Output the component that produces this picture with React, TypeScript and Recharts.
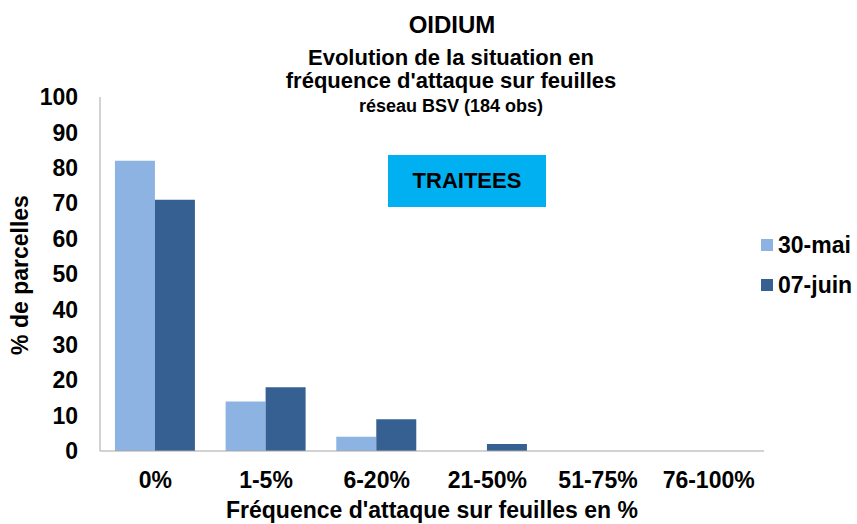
import React from "react";
import { Bar, BarChart, Legend, XAxis, YAxis } from "recharts";

const classes = ["0%", "1-5%", "6-20%", "21-50%", "51-75%", "76-100%"];
const mai30 = [82, 14, 4, 0, 0, 0];
const juin07 = [71, 18, 9, 2, 0, 0];
const seriesNames = ["30-mai", "07-juin"];
const yTicks = [0, 10, 20, 30, 40, 50, 60, 70, 80, 90, 100];

const data = classes.map((c, i) => ({
  classe: c,
  mai: mai30[i],
  juin: juin07[i],
}));

const FONT = '"Liberation Sans", Arial, sans-serif';

function LegendBox({ payload }: any) {
  const items = [...(payload || [])].sort(
    (a: any, b: any) => seriesNames.indexOf(a.value) - seriesNames.indexOf(b.value)
  );
  return (
    <div style={{ fontFamily: FONT, fontWeight: "bold", fontSize: 23 }}>
      {items.map((p: any) => (
        <div
          key={p.value}
          style={{ display: "flex", alignItems: "center", height: 40, color: "#000" }}
        >
          <span
            style={{
              width: 12,
              height: 12,
              background: p.color,
              display: "inline-block",
              marginRight: 5,
            }}
          />
          {p.value}
        </div>
      ))}
    </div>
  );
}

export default function App() {
  return (
    <div style={{ position: "absolute", left: 0, top: 0, width: 857, height: 524, background: "#fff" }}>
      <BarChart
        width={857}
        height={524}
        data={data}
        margin={{ top: 97, right: 93, bottom: 0, left: 0 }}
        barCategoryGap="13.5%"
        barGap={0}
      >
        <XAxis
          dataKey="classe"
          height={73}
          stroke="#a6a6a6"
          tickLine={false}
          tickSize={0}
          tickMargin={21}
          interval={0}
          tick={{ fill: "#000", fontSize: 23, fontWeight: "bold", fontFamily: FONT }}
          label={{
            value: "Fréquence d'attaque sur feuilles en %",
            position: "insideBottom",
            offset: 6,
            fill: "#000",
            fontSize: 23,
            fontWeight: "bold",
            fontFamily: FONT,
          }}
        />
        <YAxis
          width={100}
          domain={[0, 100]}
          ticks={yTicks}
          interval={0}
          stroke="#a6a6a6"
          tickLine={false}
          tickSize={0}
          tickMargin={22}
          tick={{ fill: "#000", fontSize: 23, fontWeight: "bold", fontFamily: FONT }}
        />
        <Legend
          layout="vertical"
          align="center"
          verticalAlign="middle"
          content={<LegendBox />}
          wrapperStyle={{ position: "absolute", left: 761, top: 225, width: 96 }}
        />
        <Bar dataKey="mai" name={seriesNames[0]} fill="#8db3e2" isAnimationActive={false} />
        <Bar dataKey="juin" name={seriesNames[1]} fill="#376092" isAnimationActive={false} />
      </BarChart>

      <svg
        width={857}
        height={524}
        style={{ position: "absolute", left: 0, top: 0, pointerEvents: "none" }}
        fontFamily={FONT}
        fontWeight="bold"
      >
        <text x={452} y={33} textAnchor="middle" fontSize={24}>OIDIUM</text>
        <text x={451} y={65} textAnchor="middle" fontSize={22}>Evolution de la situation en</text>
        <text x={451} y={88} textAnchor="middle" fontSize={22}>fréquence d'attaque sur feuilles</text>
        <text x={451} y={112} textAnchor="middle" fontSize={18}>réseau BSV (184 obs)</text>
        <text x={28} y={275} textAnchor="middle" fontSize={23} transform="rotate(-90 28 275)">
          % de parcelles
        </text>
      </svg>

      <div
        style={{
          position: "absolute",
          left: 388,
          top: 155,
          width: 158,
          height: 52,
          background: "#00b0f0",
          display: "flex",
          alignItems: "center",
          justifyContent: "center",
          fontFamily: FONT,
          fontWeight: "bold",
          fontSize: 22,
          color: "#000",
        }}
      >
        TRAITEES
      </div>
    </div>
  );
}
